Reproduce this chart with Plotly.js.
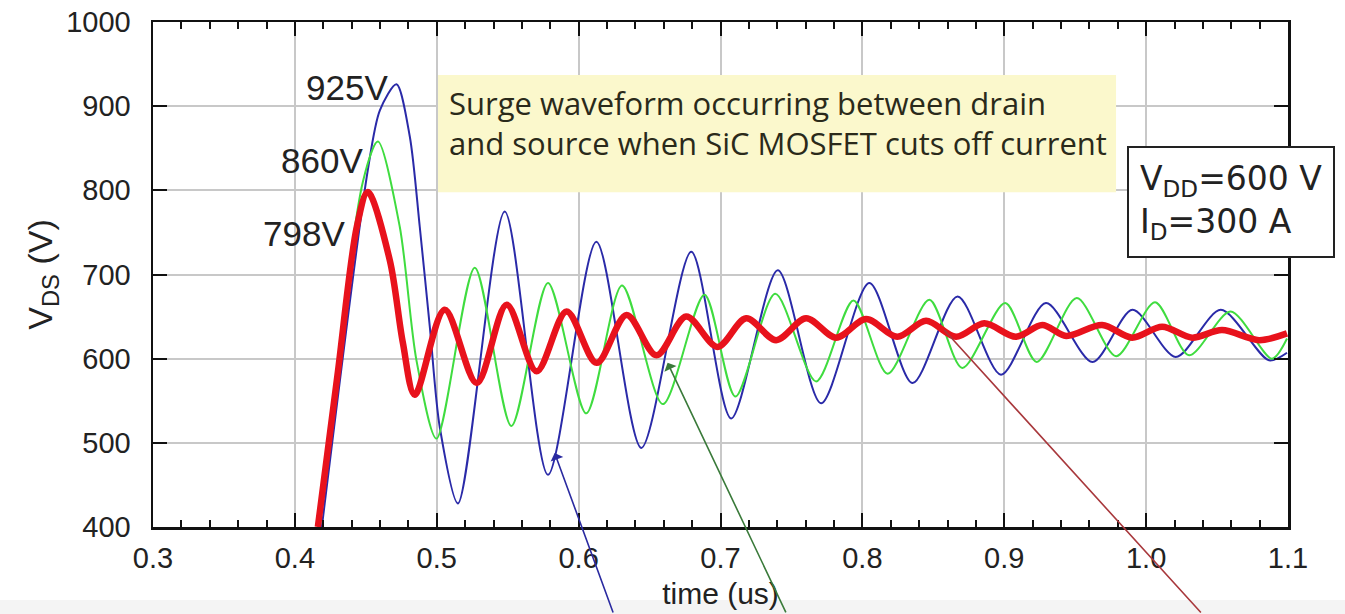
<!DOCTYPE html>
<html>
<head>
<meta charset="utf-8">
<script src="https://cdn.plot.ly/plotly-3.0.1.min.js"></script>
<style>html,body{margin:0;padding:0;background:#fff;}#chart{width:1345px;height:614px;}</style>
</head>
<body>
<div id="chart"></div>
<script>
// time (us) and V_DS (V)
var redT = [0.4162, 0.4300, 0.4437, 0.4514, 0.4669, 0.4761, 0.4845, 0.5056, 0.5282, 0.5493, 0.5704, 0.5915, 0.6127, 0.6338, 0.6549, 0.6758, 0.6979, 0.7181, 0.7392, 0.7603, 0.7815, 0.8026, 0.8246, 0.8449, 0.8660, 0.8859, 0.9082, 0.9268, 0.9437, 0.9690, 0.9901, 1.0113, 1.0324, 1.0535, 1.0796, 1.0993];
var redV = [400, 580, 757, 798, 717, 619, 557, 658, 571, 664, 585, 656, 595, 652, 604, 650, 614, 648, 622, 648, 625, 647, 626, 645, 626, 642, 626, 640, 627, 640, 625, 638, 625, 634, 622, 630];

var greenT = [0.4175, 0.4479, 0.4585, 0.4739, 0.4857, 0.4998, 0.5268, 0.5526, 0.5784, 0.6054, 0.6306, 0.6594, 0.6887, 0.7105, 0.7386, 0.7674, 0.7937, 0.8178, 0.8472, 0.8704, 0.9007, 0.9229, 0.9511, 0.9789, 1.0063, 1.0303, 1.0595, 1.0887, 1.0993];
var greenV = [400, 810, 858, 757, 598, 505, 708, 520, 690, 535, 687, 546, 676, 555, 677, 573, 669, 582, 670, 589, 666, 596, 672, 603, 667, 604, 656, 600, 624];

var blueT = [0.4190, 0.4514, 0.4599, 0.4716, 0.4810, 0.4880, 0.4951, 0.5021, 0.5150, 0.5479, 0.5784, 0.6125, 0.6442, 0.6794, 0.7075, 0.7404, 0.7709, 0.8049, 0.8354, 0.8671, 0.8977, 0.9294, 0.9622, 0.9904, 1.0209, 1.0526, 1.0866, 1.0993];
var blueV = [400, 824, 895, 926, 864, 757, 638, 519, 428, 775, 462, 739, 494, 727, 529, 705, 547, 690, 571, 674, 581, 666, 596, 658, 602, 658, 598, 607];

var peakLabels = ["925V", "860V", "798V"];
var noteText = ["Surge waveform occurring between drain", "and source when SiC MOSFET cuts off current"];
var condText = ["V<sub>DD</sub>=600 V", "I<sub>D</sub>=300 A"];
var xTitle = "time (us)";
var yTitle = "V<sub>DS</sub> (V)";

var traces = [
  {x: blueT, y: blueV, type: 'scatter', mode: 'lines', line: {color: '#2a2aa8', width: 2, shape: 'spline', smoothing: 0.8}, hoverinfo: 'x+y'},
  {x: greenT, y: greenV, type: 'scatter', mode: 'lines', line: {color: '#3fdc3f', width: 2, shape: 'spline', smoothing: 0.8}, hoverinfo: 'x+y'},
  {x: redT, y: redV, type: 'scatter', mode: 'lines', line: {color: '#e8121c', width: 6.5, shape: 'spline', smoothing: 0.9}, hoverinfo: 'x+y'}
];

var fam = 'Liberation Sans, Arial, sans-serif';
var tickFont = {family: fam, size: 29, color: '#222'};
var axisCommon = {
  ticks: 'inside', ticklen: 14, tickwidth: 2, tickcolor: '#111',
  showline: true, linewidth: 2.5, linecolor: '#111', mirror: 'ticks',
  showgrid: true, gridcolor: '#c8c8c8', gridwidth: 2, zeroline: false,
  tickfont: tickFont
};

var layout = {
  width: 1345, height: 614,
  margin: {l: 153, r: 57, t: 22, b: 87},
  paper_bgcolor: '#ffffff', plot_bgcolor: '#ffffff',
  showlegend: false,
  xaxis: Object.assign({}, axisCommon, {
    range: [0.3, 1.1], tick0: 0.3, dtick: 0.1, tickformat: '.1f', ticklabelstandoff: 4,
    minor: {dtick: 0.02, ticks: 'inside', ticklen: 7, tickwidth: 2, tickcolor: '#111', showgrid: false},
    title: {text: xTitle, font: {family: fam, size: 30, color: '#222'}, standoff: 10}
  }),
  yaxis: Object.assign({}, axisCommon, {
    range: [400, 1000], dtick: 100, ticklabelstandoff: 14,
    title: {text: yTitle, font: {family: fam, size: 34, color: '#222'}, standoff: 4}
  }),
  shapes: [
    {type: 'rect', xref: 'paper', yref: 'paper', x0: -0.1348, x1: 1.0502, y0: -0.1723, y1: -0.1446, fillcolor: '#f4f4f4', line: {width: 0}, layer: 'below'},
    {type: 'rect', xref: 'paper', yref: 'paper', x0: 0.2511, x1: 0.8485, y0: 0.663, y1: 0.895, fillcolor: '#fbf8cc', line: {width: 0}, layer: 'above'}
  ],
  annotations: [
    {xref: 'paper', yref: 'paper', x: 0.2088, y: 0.871, xanchor: 'right', yanchor: 'middle', text: peakLabels[0], showarrow: false, font: {family: fam, size: 35, color: '#222'}},
    {xref: 'paper', yref: 'paper', x: 0.1868, y: 0.7267, xanchor: 'right', yanchor: 'middle', text: peakLabels[1], showarrow: false, font: {family: fam, size: 35, color: '#222'}},
    {xref: 'paper', yref: 'paper', x: 0.1709, y: 0.582, xanchor: 'right', yanchor: 'middle', text: peakLabels[2], showarrow: false, font: {family: fam, size: 35, color: '#222'}},
    {xref: 'paper', yref: 'paper', x: 0.259, y: 0.80, xanchor: 'left', yanchor: 'middle', align: 'left', text: noteText.join('<br>'), showarrow: false, font: {family: 'Open Sans, sans-serif', size: 31, color: '#2a2a1a'}},
    {xref: 'paper', yref: 'paper', x: 0.858, y: 0.6426, xanchor: 'left', yanchor: 'middle', align: 'left', text: condText.join('<br>'), showarrow: false, bgcolor: '#ffffff', bordercolor: '#222', borderwidth: 2, borderpad: 11, font: {family: 'DejaVu Sans, sans-serif', size: 33, color: '#222'}},
    {xref: 'x', yref: 'y', x: 0.5831, y: 488, ax: 59, ay: 161, axref: 'pixel', ayref: 'pixel', text: '', showarrow: true, arrowhead: 1, arrowsize: 1.4, arrowwidth: 1.6, arrowcolor: '#2a2aa0', standoff: 0},
    {xref: 'x', yref: 'y', x: 0.6627, y: 595, ax: 119, ay: 251, axref: 'pixel', ayref: 'pixel', text: '', showarrow: true, arrowhead: 1, arrowsize: 1.4, arrowwidth: 1.6, arrowcolor: '#3a7a3a', standoff: 0},
    {xref: 'x', yref: 'y', x: 0.8577, y: 634, ax: 258, ay: 284, axref: 'pixel', ayref: 'pixel', text: '', showarrow: true, arrowhead: 0, arrowsize: 1.4, arrowwidth: 1.6, arrowcolor: '#a8383c', standoff: 0}
  ]
};

Plotly.newPlot('chart', traces, layout, {displayModeBar: false, staticPlot: true});
</script>
</body>
</html>
